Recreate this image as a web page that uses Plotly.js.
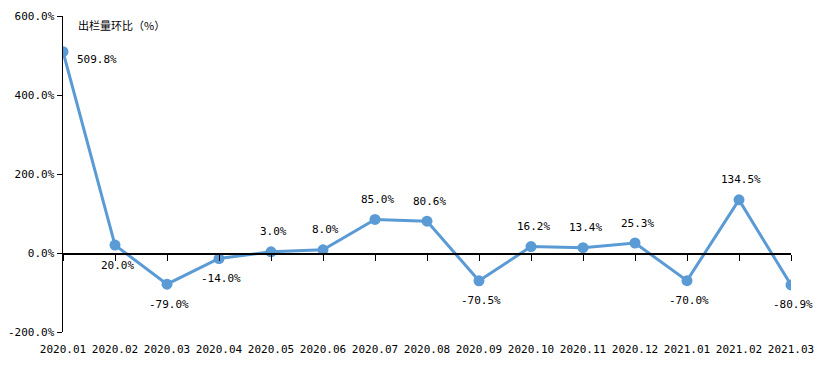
<!DOCTYPE html>
<html>
<head>
<meta charset="utf-8">
<script src="https://cdn.plot.ly/plotly-3.0.1.min.js"></script>
<style>html,body{margin:0;padding:0;background:#fff;}#chart{width:822px;height:367px;}</style>
</head>
<body>
<div id="chart"></div>
<script>
const categories = ["2020.01","2020.02","2020.03","2020.04","2020.05","2020.06","2020.07","2020.08","2020.09","2020.10","2020.11","2020.12","2021.01","2021.02","2021.03"];
const values = [509.8, 20.0, -79.0, -14.0, 3.0, 8.0, 85.0, 80.6, -70.5, 16.2, 13.4, 25.3, -70.0, 134.5, -80.9];
const labelSide = ["right","below","below","below","above","above","above","above","below","above","above","above","below","above","below"];
const seriesTitle = "出栏量环比（%）";
const yTicks = [-200, 0, 200, 400, 600];

const FONT = "'DejaVu Sans Mono', 'Noto Sans CJK SC', monospace";
const color = "#5B9BD5";

const annotations = categories.map((c, i) => {
  const side = labelSide[i];
  const a = {
    x: i, y: values[i], xref: "x", yref: "y",
    text: values[i].toFixed(1) + "%",
    showarrow: false,
    font: {family: FONT, size: 11, color: "#000"}
  };
  if (side === "right") { a.xanchor = "left"; a.yanchor = "middle"; a.xshift = 12; a.yshift = -8; }
  else if (side === "above") { a.xanchor = "center"; a.yanchor = "middle"; a.yshift = 20; a.xshift = 2; }
  else { a.xanchor = "center"; a.yanchor = "middle"; a.yshift = -20; a.xshift = 2; }
  return a;
});
annotations.push({
  xref: "paper", yref: "paper", x: 0.018, y: 0.97, xanchor: "left", yanchor: "middle",
  text: seriesTitle, showarrow: false,
  font: {family: "'Noto Sans CJK SC', sans-serif", size: 11, color: "#000"}
});

const traces = [
  {
    type: "scatter", mode: "lines+markers",
    x: categories, y: values,
    xaxis: "x", yaxis: "y",
    line: {color: color, width: 3},
    marker: {color: color, size: 11},
    hoverinfo: "skip", showlegend: false
  },
  {
    type: "scatter", mode: "lines",
    x: categories, y: values,
    xaxis: "x2", yaxis: "y",
    line: {color: "rgba(0,0,0,0)", width: 0},
    hoverinfo: "skip", showlegend: false
  }
];

const layout = {
  width: 822, height: 367,
  margin: {l: 63, r: 31, t: 16, b: 35},
  paper_bgcolor: "#fff", plot_bgcolor: "#fff",
  font: {family: FONT, size: 11, color: "#000"},
  xaxis: {
    type: "category", range: [0, categories.length - 1],
    showline: false, showgrid: false, zeroline: false,
    ticks: "", tickfont: {family: FONT, size: 11, color: "#000"},
    ticklabelstandoff: 9
  },
  xaxis2: {
    type: "category", overlaying: "x", matches: "x", anchor: "free", position: 0.25,
    showline: true, linecolor: "#000", linewidth: 1.5,
    ticks: "outside", ticklen: 6, tickcolor: "#000", tickwidth: 1,
    showticklabels: false, showgrid: false, zeroline: false
  },
  yaxis: {
    range: [-200, 600], tickvals: yTicks,
    ticktext: yTicks.map(v => v.toFixed(1) + "%"),
    showline: true, linecolor: "#000", linewidth: 1.5,
    ticks: "outside", ticklen: 5, tickcolor: "#000",
    showgrid: false, zeroline: false,
    tickfont: {family: FONT, size: 11, color: "#000"}
  },
  annotations: annotations
};

Plotly.newPlot("chart", traces, layout, {displayModeBar: false, staticPlot: true});
</script>
</body>
</html>
